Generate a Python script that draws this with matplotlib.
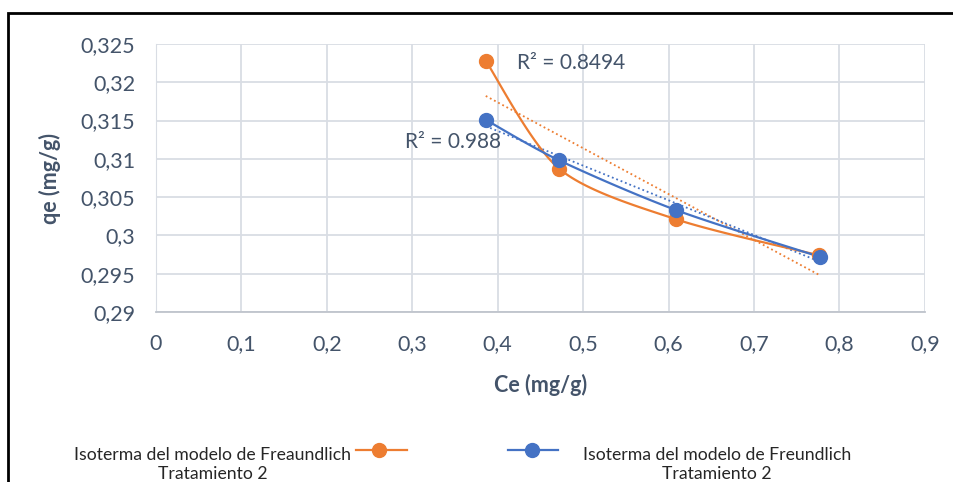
import numpy as np
import matplotlib.pyplot as plt
from matplotlib.lines import Line2D
from matplotlib.patches import Rectangle
from matplotlib.ticker import FuncFormatter

# datos
ce_freaundlich = [0.386, 0.472, 0.609, 0.776]
qe_freaundlich = [0.3228, 0.3087, 0.3021, 0.2974]
ce_freundlich = [0.386, 0.472, 0.609, 0.777]
qe_freundlich = [0.3151, 0.3098, 0.3033, 0.2972]
r2_labels = ['R² = 0.8494', 'R² = 0.988']
legend_labels = ['Isoterma del modelo de Freaundlich', 'Isoterma del modelo de Freundlich']
legend_sub = 'Tratamiento 2'

orange = '#ED7D31'
blue = '#4472C4'
txt = '#44546A'
plt.rcParams['font.family'] = ['Lato', 'DejaVu Sans']


def smooth(x, y, k=7, n=30):
    # curva suavizada tipo Excel (bezier)
    P = np.column_stack([x, y])
    out = []
    for i in range(len(P) - 1):
        p0 = P[i - 1] if i > 0 else P[i]
        p3 = P[i + 2] if i + 2 < len(P) else P[i + 1]
        c1 = P[i] + (P[i + 1] - p0) / k
        c2 = P[i + 1] - (p3 - P[i]) / k
        t = np.linspace(0, 1, n)[:, None]
        out.append((1 - t) ** 3 * P[i] + 3 * (1 - t) ** 2 * t * c1
                   + 3 * (1 - t) * t ** 2 * c2 + t ** 3 * P[i + 1])
    s = np.vstack(out)
    return s[:, 0], s[:, 1]


def linear_trend(x, y):
    m, b = np.polyfit(x, y, 1)
    xs = np.array([min(x), max(x)])
    return xs, m * xs + b


fig = plt.figure(figsize=(9.54, 4.82), dpi=100)
ax = fig.add_axes([0.1635, 0.3527, 0.806, 0.556])

for xs, ys, c in [(ce_freaundlich, qe_freaundlich, orange), (ce_freundlich, qe_freundlich, blue)]:
    sx, sy = smooth(xs, ys)
    ax.plot(sx, sy, color=c, lw=1.6, zorder=3)
    ax.plot(xs, ys, 'o', color=c, ms=10, zorder=4)
    tx, ty = linear_trend(xs, ys)
    ax.plot(tx, ty, color=c, lw=1.3, ls=(0, (1, 1.6)), zorder=2)

ax.text(0.423, 0.3225, r2_labels[0], fontsize=15, color=txt, va='center')
ax.text(0.292, 0.3122, r2_labels[1], fontsize=15, color=txt, va='center')

ax.set_xlim(0, 0.9)
ax.set_ylim(0.29, 0.325)
ax.set_xticks(np.arange(0, 0.91, 0.1))
ax.set_yticks(np.arange(0.29, 0.3251, 0.005))
fmt = FuncFormatter(lambda v, p: f'{round(v, 4):g}'.replace('.', ','))
ax.xaxis.set_major_formatter(fmt)
ax.yaxis.set_major_formatter(fmt)
ax.tick_params(length=0, labelsize=15.5, colors=txt)
ax.tick_params(axis='y', pad=15)
ax.tick_params(axis='x', pad=16)
ax.grid(color='#D9DDE4', lw=1.3)
ax.set_axisbelow(True)
for s in ax.spines.values():
    s.set_visible(False)
ax.spines['left'].set_visible(True)
ax.spines['left'].set_color('#D9DDE4')
ax.spines['bottom'].set_visible(True)
ax.spines['bottom'].set_color('#BFC4CC')
ax.spines['bottom'].set_linewidth(1.3)

ax.set_xlabel('Ce (mg/g)', fontsize=15.5, fontweight='bold', color=txt, labelpad=14)
ax.set_ylabel('qe (mg/g)', fontsize=15.5, fontweight='bold', color=txt, labelpad=14)

# marco del grafico
fig.patches.append(Rectangle((0.0089, -0.1), 1.2, 1.072, transform=fig.transFigure,
                             fill=False, ec='black', lw=2))

# leyenda manual en la parte inferior
for xc, lab in [(213, legend_labels[0]), (717, legend_labels[1])]:
    fig.text(xc / 954, 1 - 455 / 482, lab, ha='center', va='center', fontsize=12.7,
             color='#262626')
    fig.text(xc / 954, 1 - 474 / 482, legend_sub, ha='center', va='center', fontsize=12.7,
             color='#262626')
for x0, x1, xm, c in [(356, 407, 379, orange), (508, 558, 532, blue)]:
    fig.lines.append(Line2D([x0 / 954, x1 / 954], [1 - 450 / 482] * 2,
                            transform=fig.transFigure, color=c, lw=1.6))
    fig.lines.append(Line2D([xm / 954], [1 - 450 / 482], transform=fig.transFigure,
                            color=c, marker='o', ms=10))

fig.savefig('out.png', dpi=100)
